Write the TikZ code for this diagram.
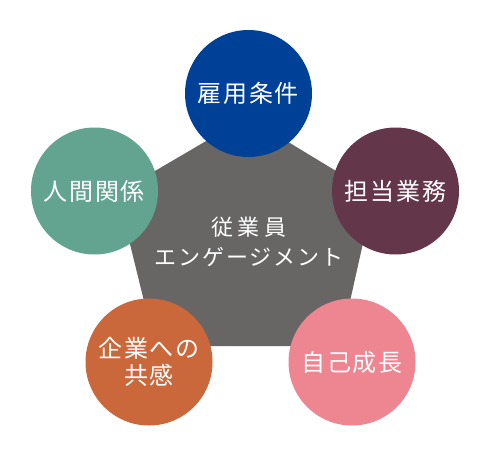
\documentclass[tikz,border=0pt]{standalone}
\usepackage{fontspec}
\newfontfamily\jp{Noto Sans CJK JP}
\definecolor{cblue}{RGB}{0,65,152}
\definecolor{cmaroon}{RGB}{100,54,74}
\definecolor{cteal}{RGB}{98,164,143}
\definecolor{corange}{RGB}{203,104,59}
\definecolor{cpink}{RGB}{237,134,145}
\definecolor{cgrey}{RGB}{103,102,101}
\begin{document}
\begin{tikzpicture}[x=1pt,y=-1pt,
  bubble/.style={circle, minimum size=127pt, inner sep=0pt, text=white, align=center,
    font=\jp\fontsize{24}{27}\selectfont\addfontfeatures{LetterSpace=7}},
  core/.style={text=white, align=center, inner sep=0pt,
    font=\jp\fontsize{22}{30}\selectfont}]
\useasboundingbox[fill=white] (0,0) rectangle (490,453);
\fill[cgrey] (247,117) -- (117.5,193) -- (155,346) -- (340,346) -- (374,194) -- cycle;
\node[core] (center) at (249,242) {{\addfontfeatures{LetterSpace=22}従業員}\\{\addfontfeatures{LetterSpace=9}エンゲージメント}};
\node[bubble, fill=cblue] (koyo) at (248.5,93.5) {雇用条件};
\node[bubble, fill=cmaroon] (tanto) at (395.5,191) {担当業務};
\node[bubble, fill=cteal] (ningen) at (94.5,191) {人間関係};
\node[bubble, fill=corange] (kigyo) at (149,362) {企業への\\共感};
\node[bubble, fill=cpink] (jiko) at (352,362) {自己成長};
\end{tikzpicture}
\end{document}
